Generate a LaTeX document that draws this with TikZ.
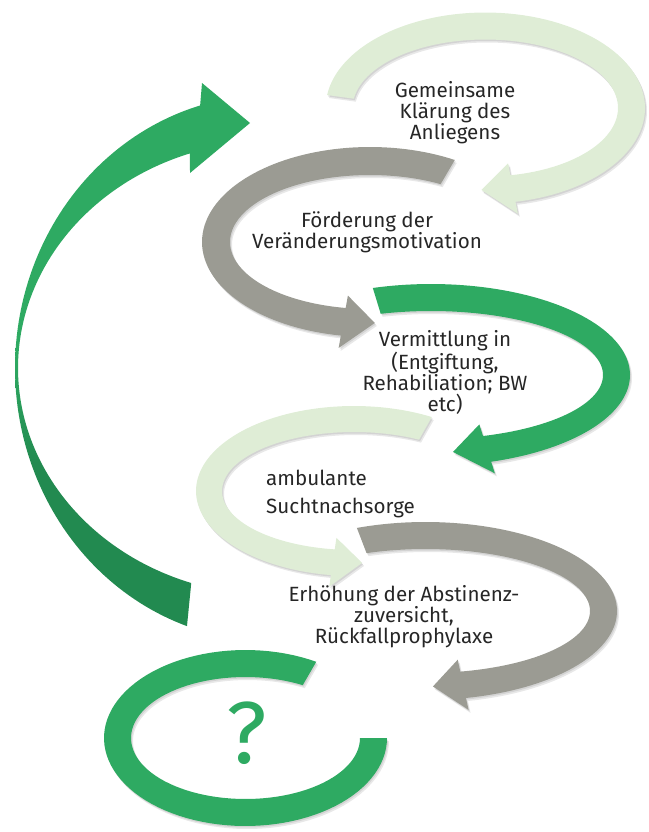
\documentclass[tikz,border=0pt]{standalone}
\usepackage{fontspec}
\setmainfont{Fira Sans}
\definecolor{lgreen}{RGB}{223,237,214}
\definecolor{agray}{RGB}{155,155,147}
\definecolor{mgreen}{RGB}{46,170,98}
\definecolor{dgreen}{RGB}{34,138,80}
\definecolor{txt}{RGB}{38,38,38}
\pgfdeclareverticalshading{bigshade}{100bp}{color(0bp)=(dgreen); color(40bp)=(dgreen); color(50bp)=(mgreen); color(100bp)=(mgreen)}
\tikzset{
 lightarc/.style={fill=lgreen},
 grayarc/.style={fill=agray},
 greenarc/.style={fill=mgreen},
 shadowarc/.style={fill=black, fill opacity=0.09},
 plainarc/.style={},
 lbl/.style={font=\fontsize{20.6}{21}\selectfont, text=txt, inner sep=0pt, align=center},
}
% #1 style, #2 cx, #3 cy, #4 A, #5 B (outer radii), #6 thickness, #7 start angle, #8 head base angle, #9 tip angle
\newcommand{\ringarrow}[9]{%
 \pgfmathsetmacro{\rAx}{#4}\pgfmathsetmacro{\rBy}{#5}%
 \pgfmathsetmacro{\rAi}{#4-#6}\pgfmathsetmacro{\rBi}{#5-#6}%
 \pgfmathsetmacro{\rAm}{#4-#6/2}\pgfmathsetmacro{\rBm}{#5-#6/2}%
 \pgfmathsetmacro{\rAo}{#4+0.45*#6}\pgfmathsetmacro{\rBo}{#5+0.45*#6}%
 \pgfmathsetmacro{\rAj}{#4-1.45*#6}\pgfmathsetmacro{\rBj}{#5-1.45*#6}%
 \fill[#1] plot[domain=#7:#8,samples=90] ({#2+\rAx*cos(\x)},{#3+\rBy*sin(\x)})
  -- ({#2+\rAo*cos(#8)},{#3+\rBo*sin(#8)})
  -- ({#2+\rAm*cos(#9)},{#3+\rBm*sin(#9)})
  -- ({#2+\rAj*cos(#8)},{#3+\rBj*sin(#8)})
  -- ({#2+\rAi*cos(#8)},{#3+\rBi*sin(#8)})
  -- plot[domain=#8:#7,samples=90] ({#2+\rAi*cos(\x)},{#3+\rBi*sin(\x)})
  -- cycle;
}
\newcommand{\allarrows}[1]{%
\ringarrow{lightarc,#1}{485.3}{108}{159.7}{95.5}{27}{187.8}{439.1}{451.5}
\ringarrow{grayarc,#1}{370}{242}{168}{95}{28}{300.3}{100}{88.2}
\ringarrow{greenarc,#1}{431}{375}{199}{91}{27}{253}{432.4}{443.2}
\ringarrow{lightarc,#1}{354}{491}{158}{85}{26}{299.5}{98.4}{86.8}
\ringarrow{grayarc,#1}{425.5}{611}{191.5}{89}{27}{249}{437.8}{447.6}
\fill[greenarc,#1] plot[domain=0:300,samples=90] ({245.5+141.5*cos(\x)},{738+88*sin(\x)})
  -- plot[domain=300:0,samples=90] ({245.5+114.5*cos(\x)},{738+61*sin(\x)}) -- cycle;
}
\begin{document}
\begin{tikzpicture}[x=1pt,y=-1pt]
\useasboundingbox (0,0) rectangle (648,832);
% soft shadows
\begin{scope}[shift={(2,3)}]
\allarrows{shadowarc}
\end{scope}
\begin{scope}[shift={(1,1.5)}]
\allarrows{shadowarc}
\end{scope}
% curved arrows
\allarrows{plainarc}
% big return arrow
\shade[shading=bigshade] plot[domain=109:254.1,samples=100] ({270+255*cos(\x)},{368+273*sin(\x)})
  -- (202,83) -- (250,123) -- (190,173)
  -- plot[domain=251:108.7,samples=100] ({273+255*cos(\x)},{368+227*sin(\x)}) -- cycle;
% texts
\node[lbl] (t1) at (455,113) {Gemeinsame\\Klärung des\\Anliegens};
\node[lbl] (t2) at (367,232) {Förderung der\\Veränderungsmotivation};
\node[lbl] (t3) at (445,372.5) {Vermittlung in\\(Entgiftung,\\Rehabiliation; BW\\etc)};
\node[lbl, align=left, anchor=west, font=\fontsize{20.6}{28}\selectfont] (t4) at (266,494) {ambulante\\Suchtnachsorge};
\node[lbl] (t5) at (404,617) {Erhöhung der Abstinenz-\\zuversicht,\\Rückfallprophylaxe};
\node[font=\fontsize{88}{88}\selectfont, text=mgreen, inner sep=0pt, anchor=base] (q) at (247,763) {?};
\end{tikzpicture}
\end{document}
